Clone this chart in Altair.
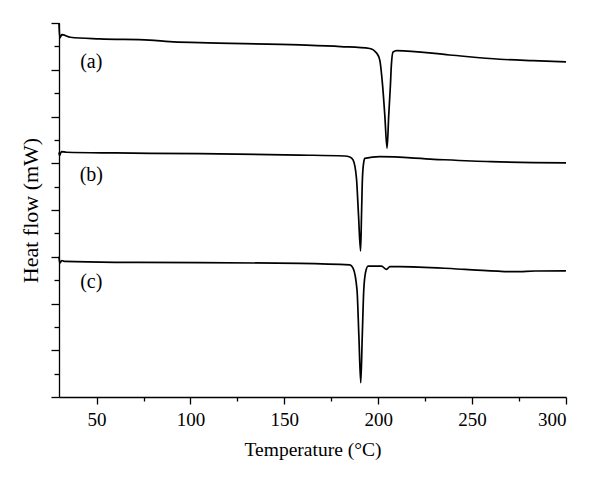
import altair as alt
import pandas as pd

# Curve (a)
temp_a = [30.0, 30.4, 31.5, 36.0, 51.6, 78.2, 88.9, 104.9, 158.2, 180.0, 195.5, 199.1, 200.8,
          202.3, 203.5, 204.7, 205.6, 206.5, 207.0, 207.9, 209.9, 238.0, 264.8, 282.4, 300.0]
flow_a = [16.00, 15.36, 15.50, 15.39, 15.32, 15.27, 15.20, 15.16, 15.06, 14.99, 14.91, 14.72, 14.42,
          13.35, 12.06, 10.64, 12.06, 13.35, 14.20, 14.76, 14.82, 14.63, 14.45, 14.39, 14.34]

# Curve (b)
temp_b = [30.0, 30.3, 31.3, 34.0, 60.0, 104.9, 158.2, 182.0, 184.9, 186.6, 188.4, 189.5, 190.6,
          191.1, 191.6, 192.3, 192.9, 200.8, 229.6, 260.0, 300.0]
flow_b = [10.46, 10.33, 10.50, 10.47, 10.44, 10.41, 10.35, 10.31, 10.27, 10.14, 9.37, 7.79, 6.25,
          7.79, 9.37, 10.05, 10.21, 10.28, 10.17, 10.07, 10.02]

# Curve (c)
temp_c = [30.0, 30.4, 31.5, 33.0, 60.0, 104.9, 158.2, 184.9, 186.6, 188.7, 189.7, 190.7, 191.5,
          192.3, 193.3, 194.6, 201.7, 204.4, 206.2, 211.5, 246.3, 273.0, 283.6, 300.0]
flow_c = [6.00, 5.73, 5.84, 5.80, 5.76, 5.75, 5.72, 5.65, 5.51, 4.58, 2.61, 0.61, 2.61,
          4.58, 5.35, 5.60, 5.60, 5.46, 5.58, 5.58, 5.46, 5.36, 5.39, 5.40]

# Curve labels (text and anchor position in data units)
label_text = ["(a)", "(b)", "(c)"]
label_temp = [47.2, 47.2, 47.2]
label_flow = [14.34, 9.50, 4.93]

x_major = [50, 100, 150, 200, 250, 300]
x_minor = [75, 125, 175, 225, 275]
y_major = [0, 2, 4, 6, 8, 10, 12, 14, 16]
y_minor = [1, 3, 5, 7, 9, 11, 13, 15]

FONT = "Liberation Serif"

rows = []
for name, ts, fs in [("a", temp_a, flow_a), ("b", temp_b, flow_b), ("c", temp_c, flow_c)]:
    for i, (t, f) in enumerate(zip(ts, fs)):
        rows.append({"series": name, "order": i, "temp": t, "flow": f})
df = pd.DataFrame(rows)
lab = pd.DataFrame({"text": label_text, "temp": label_temp, "flow": label_flow})

xscale = alt.Scale(domain=[30, 300], nice=False, zero=False)
yscale = alt.Scale(domain=[0, 16], nice=False, zero=False)

lines = alt.Chart(df).mark_line(color="black", strokeWidth=1.7, interpolate="monotone").encode(
    x=alt.X("temp:Q", scale=xscale,
            axis=alt.Axis(orient="bottom", values=x_major, tickSize=7, tickWidth=1.3,
                          domainWidth=1.3, domainColor="black", tickColor="black",
                          labelFont=FONT, labelFontSize=19, labelColor="black", labelPadding=6,
                          title="Temperature (°C)", titleFont=FONT, titleFontSize=19.5,
                          titleFontWeight="normal", titleColor="black", titlePadding=11,
                          grid=False)),
    y=alt.Y("flow:Q", scale=yscale,
            axis=alt.Axis(orient="left", values=y_major, tickSize=8, tickWidth=1.3,
                          domainWidth=1.3, domainColor="black", tickColor="black",
                          labels=False, title="Heat flow (mW)", titleFont=FONT,
                          titleFontSize=22, titleFontWeight="normal", titleColor="black",
                          titlePadding=8, grid=False)),
    detail="series:N",
    order="order:Q",
)

texts = alt.Chart(lab).mark_text(font=FONT, fontSize=20, color="black").encode(
    x=alt.X("temp:Q", scale=xscale,
            axis=alt.Axis(orient="bottom", values=x_minor, tickSize=4, tickWidth=1.3,
                          tickColor="black", domain=False, labels=False, title=None, grid=False)),
    y=alt.Y("flow:Q", scale=yscale,
            axis=alt.Axis(orient="left", values=y_minor, tickSize=5, tickWidth=1.3,
                          tickColor="black", domain=False, labels=False, title=None, grid=False)),
    text="text:N",
)

chart = alt.layer(lines, texts).resolve_axis(x="independent", y="independent").properties(
    width=507, height=374,
    autosize=alt.AutoSizeParams(type="none"),
    padding={"left": 59, "top": 23, "right": 34, "bottom": 84},
    background="white",
).configure_view(strokeWidth=0)

chart.save("out.html", embed_options={"renderer": "svg", "actions": False})
